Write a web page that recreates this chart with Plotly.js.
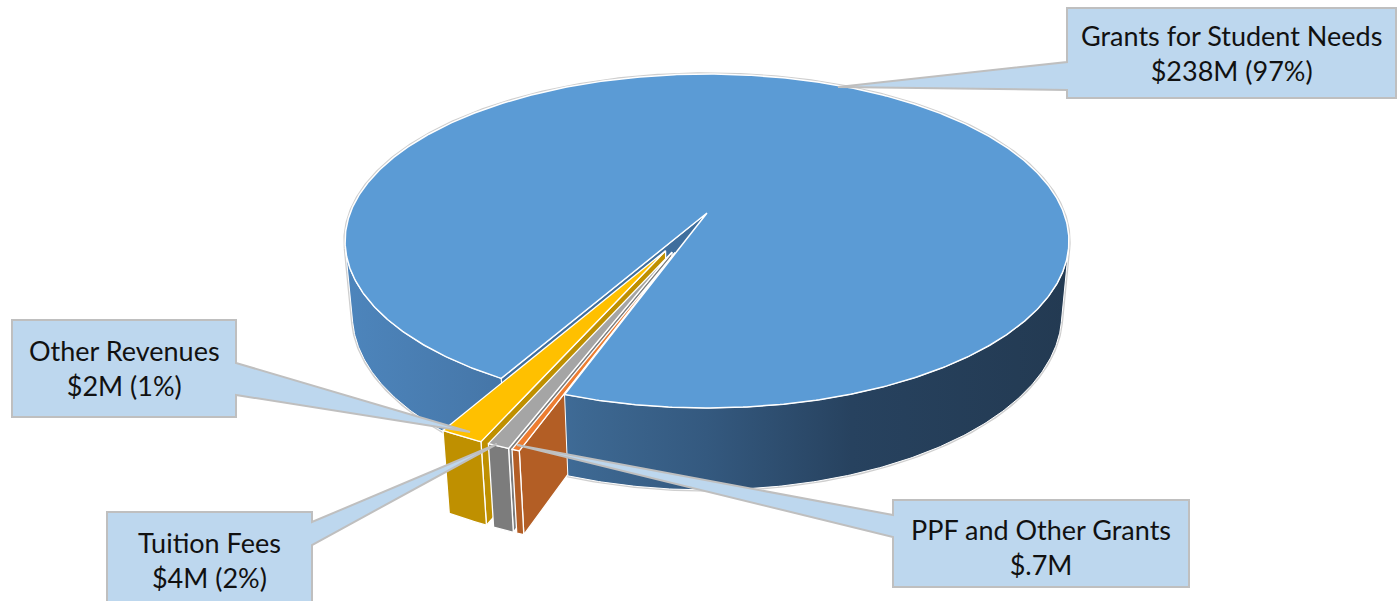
<!DOCTYPE html>
<html><head><meta charset="utf-8">
<script src="https://cdn.plot.ly/plotly-3.0.1.min.js"></script>
<style>html,body{margin:0;padding:0;background:#fff;overflow:hidden}</style>
</head><body>
<div id="chart" style="width:1398px;height:601px"></div>
<script>
// ---- data ----
const categories = ['Grants for Student Needs', 'PPF and Other Grants', 'Other Revenues', 'Tuition Fees'];
const values = [238, 0.7, 2, 4];
const valueLabels = ['$238M (97%)', '$.7M', '$2M (1%)', '$4M (2%)'];

// ---- styles ----
const topColors  = ['#5B9BD5', '#ED7D31', '#A5A5A5', '#FFC000'];
const wallColors = ['#3f6e9d', '#B35E25', '#7C7C7C', '#BF9000'];
const pulls = [0, 0.25, 0.25, 0.25];
const startAngle = 119.5;           // degrees, first slice edge
const geo = {cx: 707, cy: 213, f: 1895, dist: 5.311, tilt: 27.05, depth: 0.232};
const deg = Math.PI / 180;

// callouts (layout positions)
const callouts = [
  {box: [1067, 8, 1396, 98],  side: 'left',  base: [62, 90],   tip: [838, 87],  ty: 53},
  {box: [893, 500, 1189, 587], side: 'left', base: [515, 537], tip: [517, 445], ty: 547},
  {box: [12, 320, 236, 417],  side: 'right', base: [363, 395], tip: [470, 432], ty: 368},
  {box: [107, 512, 312, 606], side: 'right', base: [522, 545], tip: [497, 444], ty: 560}
];

// ---- projection ----
const sT = Math.sin(geo.tilt * deg), cT = Math.cos(geo.tilt * deg);
function P(X, Y, Z) {
  const yc = Y * cT - Z * sT;
  const dz = geo.dist - (Y * sT + Z * cT);
  return [geo.cx + geo.f * X / dz, geo.cy - geo.f * yc / dz];
}
function ring(t0, t1, Y, ox, oz) {
  ox = ox || 0; oz = oz || 0;
  const n = Math.max(2, Math.ceil(Math.abs(t1 - t0) / 0.5));
  const pts = [];
  for (let i = 0; i <= n; i++) {
    const t = (t0 + (t1 - t0) * i / n) * deg;
    pts.push(P(ox + Math.cos(t), Y, oz + Math.sin(t)));
  }
  return pts;
}
const traces = [];
function poly(pts, color, extra) {
  const xs = pts.map(p => p[0]), ys = pts.map(p => p[1]);
  xs.push(xs[0]); ys.push(ys[0]);
  const t = Object.assign({
    x: xs, y: ys, mode: 'lines', fill: 'toself', fillcolor: color,
    line: {color: '#ffffff', width: 1.3}, hoverinfo: 'skip', showlegend: false
  }, extra || {});
  traces.push(t);
}
const H = -geo.depth;
const total = values.reduce((a, b) => a + b, 0);
const visStart = Math.asin(1 / (geo.dist * cT)) / deg;
const visEnd = 180 - visStart;

// slice angle ranges
const slices = [];
let acc = startAngle;
values.forEach((v, i) => {
  const a = acc, b = acc + 360 * v / total;
  acc = b;
  const m = (a + b) / 2 * deg;
  slices.push({i, a, b, ox: pulls[i] * Math.cos(m), oz: pulls[i] * Math.sin(m)});
});

const wallGrad = {type: 'horizontal', start: 345, stop: 1069,
  colorscale: [[0, '#4d85bc'], [0.2, '#4677a9'], [0.33, '#3d6892'], [0.5, '#34597f'], [0.7, '#27425f'], [1, '#233a52']]};

// soft grey silhouette
(function () {
  const pts = ring(visEnd, visStart + 360, 0).concat(ring(visStart, visEnd, H));
  const xs = pts.map(p => p[0]), ys = pts.map(p => p[1]);
  xs.push(xs[0]); ys.push(ys[0]);
  traces.push({x: xs, y: ys, mode: 'lines', line: {color: '#cfcfcf', width: 3.5}, hoverinfo: 'skip', showlegend: false});
})();

const big = slices[0];
const bigEnd = big.b - 360;
// blue left wall piece
if (big.a < visEnd) {
  poly(ring(big.a, visEnd, 0).concat(ring(visEnd, big.a, H)), '#4a7fb5', {fillgradient: wallGrad, line: {color: '#ffffff', width: 1}});
}
// blue radial face at start edge
(function () {
  const t = big.a * deg;
  poly([P(0, 0, 0), P(Math.cos(t), 0, Math.sin(t)), P(Math.cos(t), H, Math.sin(t)), P(0, H, 0)], wallColors[0], {line: {color: '#ffffff', width: 1}});
})();

// exploded small slices: draw from highest angle to lowest
slices.slice(1).sort((p, q) => q.a - p.a).forEach(s => {
  const ta = s.a * deg;
  // radial face at lower edge
  poly([P(s.ox, 0, s.oz), P(s.ox + Math.cos(ta), 0, s.oz + Math.sin(ta)),
        P(s.ox + Math.cos(ta), H, s.oz + Math.sin(ta)), P(s.ox, H, s.oz)], wallColors[s.i]);
  // outer wall
  poly(ring(s.a, s.b, 0, s.ox, s.oz).concat(ring(s.b, s.a, H, s.ox, s.oz)), wallColors[s.i]);
  // top
  poly([P(s.ox, 0, s.oz)].concat(ring(s.a, s.b, 0, s.ox, s.oz)), topColors[s.i]);
});

// blue right wall piece
poly(ring(visStart, bigEnd, 0).concat(ring(bigEnd, visStart, H)), '#34597f', {fillgradient: wallGrad, line: {color: '#ffffff', width: 1}});
// blue top
poly([P(0, 0, 0)].concat(ring(big.a, big.b, 0)), topColors[0], {line: {color: '#ffffff', width: 1.5}});

// ---- callouts ----
const shapes = [], annotations = [];
callouts.forEach((c, i) => {
  const [x0, y0, x1, y1] = c.box;
  let path;
  if (c.side === 'left') {
    path = `M${x0},${y0} L${x1},${y0} L${x1},${y1} L${x0},${y1} L${x0},${c.base[1]} L${c.tip[0]},${c.tip[1]} L${x0},${c.base[0]} Z`;
  } else {
    path = `M${x0},${y0} L${x1},${y0} L${x1},${c.base[0]} L${c.tip[0]},${c.tip[1]} L${x1},${c.base[1]} L${x1},${y1} L${x0},${y1} Z`;
  }
  shapes.push({type: 'path', path, xref: 'x', yref: 'y', fillcolor: '#BDD7EE', line: {color: '#BFBFBF', width: 2}, layer: 'above'});
  annotations.push({x: (x0 + x1) / 2, y: c.ty, xref: 'x', yref: 'y', showarrow: false,
    text: categories[i] + '<br>' + valueLabels[i], align: 'center', xanchor: 'center', yanchor: 'middle',
    font: {family: 'Lato, "Noto Sans", sans-serif', size: 27, color: '#111111'}});
});

Plotly.newPlot('chart', traces, {
  width: 1398, height: 601,
  margin: {l: 0, r: 0, t: 0, b: 0},
  paper_bgcolor: '#ffffff', plot_bgcolor: '#ffffff',
  xaxis: {range: [0, 1398], visible: false, fixedrange: true},
  yaxis: {range: [601, 0], visible: false, fixedrange: true},
  showlegend: false, hovermode: false,
  shapes, annotations
}, {staticPlot: true, displayModeBar: false});
</script>
</body></html>
